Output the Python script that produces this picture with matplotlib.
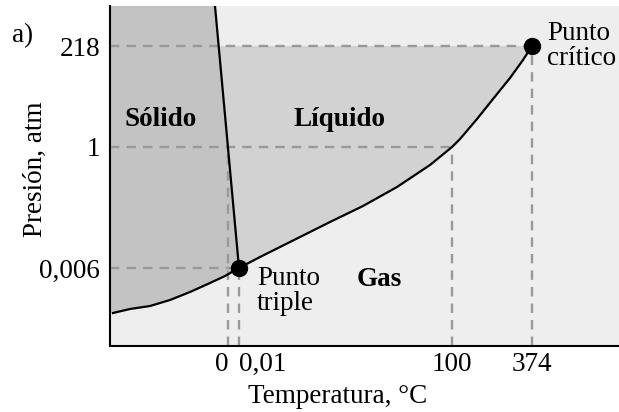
import numpy as np
import matplotlib.pyplot as plt

plt.rcParams['font.family'] = 'Liberation Serif'
plt.rcParams['font.size'] = 19.5

# schematic axes (not to scale): positions of the labelled values
temp_labels = ['0', '0,01', '100', '374']
temp_pos = [118, 129, 342, 422]
pres_labels = ['0,006', '1', '218']
pres_pos = [78, 199, 300]

triple = (temp_pos[1], pres_pos[0])
critical = (temp_pos[3], pres_pos[2])

# solid / liquid boundary
melt_x = [105, triple[0]]
melt_y = [340, triple[1]]
# solid / gas boundary
subl_x = [3, 20, 40, 60, 80, 100, 115, triple[0]]
subl_y = [33, 37, 40, 46, 54, 63, 70, triple[1]]
# liquid / gas boundary
vap_x = [triple[0], 150, 180, 220, 253, 287, 320, temp_pos[2], 350, 367, 383, 400, 413, critical[0]]
vap_y = [triple[1], 89, 104, 124, 140, 159, 181, pres_pos[1], 207, 227, 247, 268, 286, critical[1]]

fig = plt.figure(figsize=(6.19, 4.12), dpi=100)
ax = fig.add_axes([110 / 619, 66 / 412, 509 / 619, 340 / 412])
ax.set_xlim(0, 509)
ax.set_ylim(0, 340)
ax.set_facecolor('#eeeeee')

# phase regions
ax.fill([0, 0] + subl_x + [melt_x[0]], [340, subl_y[0]] + subl_y + [melt_y[0]],
        color='#c3c3c3', lw=0, zorder=1)
melt_top = np.interp(critical[1], melt_y[::-1], melt_x[::-1])
ax.fill([triple[0], melt_top] + vap_x[::-1], [triple[1], critical[1]] + vap_y[::-1],
        color='#d2d2d2', lw=0, zorder=1)

# guide lines to the axes
dash = dict(color='#999999', lw=1.7, dashes=(4, 3), zorder=2)
ax.plot([0, critical[0]], [pres_pos[2]] * 2, **dash)
ax.plot([0, temp_pos[2]], [pres_pos[1]] * 2, **dash)
ax.plot([0, triple[0]], [pres_pos[0]] * 2, **dash)
ax.plot([temp_pos[0]] * 2, [0, pres_pos[1]], **dash)
ax.plot([temp_pos[1]] * 2, [0, triple[1]], **dash)
ax.plot([temp_pos[2]] * 2, [0, pres_pos[1]], **dash)
ax.plot([temp_pos[3]] * 2, [0, critical[1]], **dash)

# phase boundaries
curve = dict(color='black', lw=1.6, zorder=3, solid_joinstyle='round')
ax.plot(melt_x, melt_y, **curve)
ax.plot(subl_x, subl_y, **curve)
ax.plot(vap_x, vap_y, **curve)
ax.plot([triple[0], critical[0]], [triple[1], critical[1]], 'o', color='black',
        ms=11.5, zorder=4)

ax.text(51, 226, 'Sólido', weight='bold', ha='center', va='center')
ax.text(230, 226, 'Líquido', weight='bold', ha='center', va='center')
ax.text(269, 66, 'Gas', weight='bold', ha='center', va='center')
ax.text(147, 55, 'Punto\ntriple', ha='left', va='center', linespacing=1.0)
ax.text(437, 300, 'Punto\ncrítico', ha='left', va='center', linespacing=1.0)

ax.set_xticks(temp_pos, temp_labels)
ax.set_yticks(pres_pos, pres_labels)
xl = ax.get_xticklabels()
xl[0].set_ha('right')
xl[1].set_ha('left')
ax.tick_params(axis='x', length=0, pad=4)
ax.tick_params(axis='y', length=0, pad=7)

for side in ['top', 'right']:
    ax.spines[side].set_visible(False)
for side in ['left', 'bottom']:
    ax.spines[side].set_linewidth(1.5)

fig.text(338 / 619, 9 / 412, 'Temperatura, °C', ha='center', va='baseline')
fig.text(35 / 619, 243 / 412, 'Presión, atm', rotation=90, ha='center', va='center')
fig.text(12 / 619, 376 / 412, 'a)', ha='left', va='center')

fig.savefig('out.png')
